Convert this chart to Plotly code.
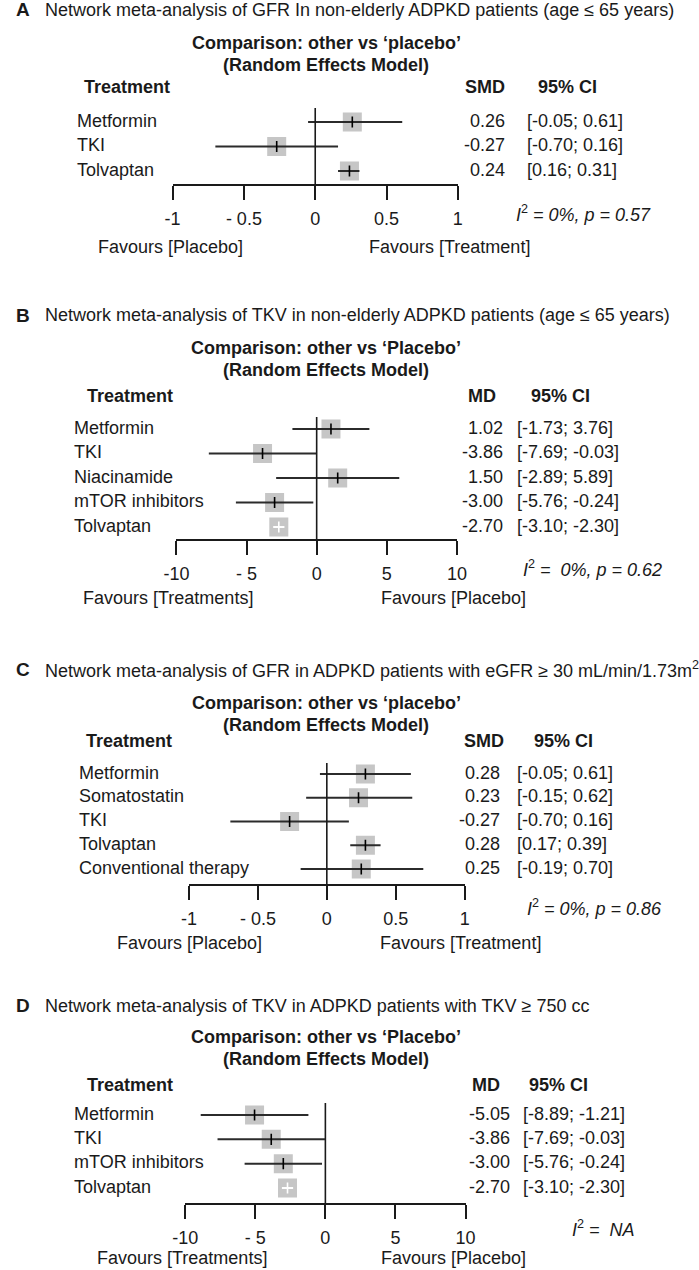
import plotly.graph_objects as go

# ---------------- data ----------------
# A: GFR in non-elderly ADPKD patients (SMD)
a_treat = ["Metformin", "TKI", "Tolvaptan"]
a_est = [0.26, -0.27, 0.24]
a_lo = [-0.05, -0.70, 0.16]
a_hi = [0.61, 0.16, 0.31]

# B: TKV in non-elderly ADPKD patients (MD)
b_treat = ["Metformin", "TKI", "Niacinamide", "mTOR inhibitors", "Tolvaptan"]
b_est = [1.02, -3.86, 1.50, -3.00, -2.70]
b_lo = [-1.73, -7.69, -2.89, -5.76, -3.10]
b_hi = [3.76, -0.03, 5.89, -0.24, -2.30]

# C: GFR in patients with eGFR >= 30 (SMD)
c_treat = ["Metformin", "Somatostatin", "TKI", "Tolvaptan", "Conventional therapy"]
c_est = [0.28, 0.23, -0.27, 0.28, 0.25]
c_lo = [-0.05, -0.15, -0.70, 0.17, -0.19]
c_hi = [0.61, 0.62, 0.16, 0.39, 0.70]

# D: TKV in patients with TKV >= 750 cc (MD)
d_treat = ["Metformin", "TKI", "mTOR inhibitors", "Tolvaptan"]
d_est = [-5.05, -3.86, -3.00, -2.70]
d_lo = [-8.89, -7.69, -5.76, -3.10]
d_hi = [-1.21, -0.03, -0.24, -2.30]

smd_ticks = [-1, -0.5, 0, 0.5, 1]
smd_ticktext = ["-1", "- 0.5", "0", "0.5", "1"]
md_ticks = [-10, -5, 0, 5, 10]
md_ticktext = ["-10", "- 5", "0", "5", "10"]

W, H = 699, 1270
FONT = "Liberation Sans, Arial, sans-serif"
INK = "#1a1a1a"
SQ = 19
BOLD = 18


def px(x):
    return x / W


def py(y):
    return 1 - y / H


panels = [
    dict(letter="A", title="Network meta-analysis of GFR In non-elderly ADPKD patients (age ≤ 65 years)",
         ref="‘placebo’", measure="SMD", treat=a_treat, est=a_est, lo=a_lo, hi=a_hi,
         ticks=smd_ticks, ticktext=smd_ticktext, fav=("Favours [Placebo]", "Favours [Treatment]"),
         het="<i>I</i><sup>2</sup><i> = 0%, p = 0.57</i>",
         title_y=10, comp_y=43, head_y=87, first=122, last=171, axis=184, top=108,
         x0=165, x1=460, name_x=64, head_x=71, val_x=511, ci_x=529, mh_x=511, cih_x=573,
         het_x=518, het_y=213, fav_y=247, fav_l=163, fav_r=451),
    dict(letter="B", title="Network meta-analysis of TKV in non-elderly ADPKD patients (age ≤ 65 years)",
         ref="‘Placebo’", measure="MD", treat=b_treat, est=b_est, lo=b_lo, hi=b_hi,
         ticks=md_ticks, ticktext=md_ticktext, fav=("Favours [Treatments]", "Favours [Placebo]"),
         het="<i>I</i><sup>2</sup><i> =  0%, p = 0.62</i>",
         title_y=315, comp_y=348, head_y=396, first=429, last=527, axis=539, top=417,
         x0=169, x1=459, name_x=61, head_x=74, val_x=509, ci_x=519, mh_x=501, cih_x=566,
         het_x=525, het_y=568, fav_y=598, fav_l=160, fav_r=455),
    dict(letter="C", title="Network meta-analysis of GFR in ADPKD patients with eGFR ≥ 30 mL/min/1.73m<sup>2</sup>",
         ref="‘placebo’", measure="SMD", treat=c_treat, est=c_est, lo=c_lo, hi=c_hi,
         ticks=smd_ticks, ticktext=smd_ticktext, fav=("Favours [Placebo]", "Favours [Treatment]"),
         het="<i>I</i><sup>2</sup><i> = 0%, p = 0.86</i>",
         title_y=670, comp_y=703, head_y=741, first=774, last=869, axis=884, top=763,
         x0=182, x1=467, name_x=66, head_x=73, val_x=506, ci_x=519, mh_x=510, cih_x=569,
         het_x=529, het_y=907, fav_y=943, fav_l=182, fav_r=463),
    dict(letter="D", title="Network meta-analysis of TKV in ADPKD patients with TKV ≥ 750 cc",
         ref="‘Placebo’", measure="MD", treat=d_treat, est=d_est, lo=d_lo, hi=d_hi,
         ticks=md_ticks, ticktext=md_ticktext, fav=("Favours [Treatments]", "Favours [Placebo]"),
         het="<i>I</i><sup>2</sup><i> =  NA</i>",
         title_y=1006, comp_y=1037, head_y=1085, first=1115, last=1188, axis=1203, top=1103,
         x0=178, x1=468, name_x=61, head_x=74, val_x=516, ci_x=525, mh_x=506, cih_x=564,
         het_x=576, het_y=1228, fav_y=1258, fav_l=175, fav_r=456),
]

fig = go.Figure()
annotations = []
shapes = []
layout = {}

for k, p in enumerate(panels, start=1):
    xa = "x" if k == 1 else f"x{k}"
    ya = "y" if k == 1 else f"y{k}"
    n = len(p["treat"])
    rows = [-i for i in range(n)]
    step = (p["last"] - p["first"]) / (n - 1)
    text_lift = 1.5 / step  # row labels sit a touch above the CI line
    lo_x, hi_x = p["ticks"][0], p["ticks"][-1]
    unit_px = (p["x1"] - p["x0"]) / (hi_x - lo_x)

    layout["xaxis" if k == 1 else f"xaxis{k}"] = dict(
        domain=[px(p["x0"]), px(p["x1"])], anchor=ya, range=[lo_x, hi_x],
        tickvals=p["ticks"], ticktext=p["ticktext"], ticks="outside", ticklen=14,
        tickwidth=1.6, tickcolor=INK, showline=True, linewidth=1.6, linecolor=INK,
        ticklabelstandoff=4,
        showgrid=False, zeroline=False, tickfont=dict(size=18, color=INK, family=FONT),
        fixedrange=True)
    layout["yaxis" if k == 1 else f"yaxis{k}"] = dict(
        domain=[py(p["axis"]), py(p["top"])], anchor=xa, visible=False,
        range=[-(p["axis"] - p["first"]) / step, (p["first"] - p["top"]) / step],
        fixedrange=True)

    # squares
    fig.add_trace(go.Scatter(x=p["est"], y=rows, mode="markers", xaxis=xa, yaxis=ya,
                             marker=dict(symbol="square", size=SQ, color="#c6c6c6", line=dict(width=0)),
                             showlegend=False, hoverinfo="skip"))
    # confidence intervals and estimate ticks
    for i in range(n):
        inside = (p["hi"][i] - p["lo"][i]) * unit_px < SQ
        col = "white" if inside else "#2b2b2b"
        fig.add_trace(go.Scatter(x=[p["lo"][i], p["hi"][i]], y=[rows[i], rows[i]], mode="lines",
                                 xaxis=xa, yaxis=ya, line=dict(color=col, width=2),
                                 showlegend=False, hoverinfo="skip"))
        fig.add_trace(go.Scatter(x=[p["est"][i]], y=[rows[i]], mode="markers", xaxis=xa, yaxis=ya,
                                 marker=dict(symbol="line-ns", size=8,
                                             line=dict(width=1.6, color="white" if inside else "black")),
                                 showlegend=False, hoverinfo="skip"))
        ty = rows[i] + text_lift
        annotations.append(dict(x=px(p["name_x"]), y=ty, xref="paper", yref=ya,
                                text=p["treat"][i], xanchor="left", yanchor="middle", showarrow=False))
        annotations.append(dict(x=px(p["val_x"]), y=ty, xref="paper", yref=ya,
                                text=f"{p['est'][i]:.2f}", xanchor="right", yanchor="middle", showarrow=False))
        annotations.append(dict(x=px(p["ci_x"]), y=ty, xref="paper", yref=ya,
                                text=f"[{p['lo'][i]:.2f}; {p['hi'][i]:.2f}]", xanchor="left",
                                yanchor="middle", showarrow=False))

    # zero line
    shapes.append(dict(type="line", xref=xa, yref=f"{ya} domain", x0=0, x1=0, y0=0, y1=1,
                       line=dict(color=INK, width=1.6)))

    # titles and headers
    annotations.append(dict(x=px(10), y=py(p["title_y"]), xref="paper", yref="paper",
                            text=f"<b>{p['letter']}</b>", font=dict(size=19),
                            xanchor="center", yanchor="middle", showarrow=False))
    annotations.append(dict(x=px(31), y=py(p["title_y"]), xref="paper", yref="paper",
                            text=p["title"], xanchor="left", yanchor="middle", showarrow=False))
    annotations.append(dict(x=px(324), y=py(p["comp_y"]), xref="paper", yref="paper",
                            text=f"<b>Comparison: other vs {p['ref']}</b>", font=dict(size=BOLD),
                            xanchor="center", yanchor="middle", showarrow=False))
    annotations.append(dict(x=px(324), y=py(p["comp_y"] + 22), xref="paper", yref="paper",
                            text="<b>(Random Effects Model)</b>", font=dict(size=BOLD),
                            xanchor="center", yanchor="middle", showarrow=False))
    annotations.append(dict(x=px(p["head_x"]), y=py(p["head_y"]), xref="paper", yref="paper",
                            text="<b>Treatment</b>", font=dict(size=BOLD),
                            xanchor="left", yanchor="middle", showarrow=False))
    annotations.append(dict(x=px(p["mh_x"]), y=py(p["head_y"]), xref="paper", yref="paper",
                            text=f"<b>{p['measure']}</b>", font=dict(size=BOLD),
                            xanchor="right", yanchor="middle", showarrow=False))
    annotations.append(dict(x=px(p["cih_x"]), y=py(p["head_y"]), xref="paper", yref="paper",
                            text="<b>95% CI</b>", font=dict(size=BOLD),
                            xanchor="center", yanchor="middle", showarrow=False))
    annotations.append(dict(x=px(p["het_x"]), y=py(p["het_y"]), xref="paper", yref="paper",
                            text=p["het"], xanchor="left", yanchor="middle", showarrow=False))
    annotations.append(dict(x=px(p["fav_l"]), y=py(p["fav_y"]), xref="paper", yref="paper",
                            text=p["fav"][0], xanchor="center", yanchor="middle", showarrow=False))
    annotations.append(dict(x=px(p["fav_r"]), y=py(p["fav_y"]), xref="paper", yref="paper",
                            text=p["fav"][1], xanchor="center", yanchor="middle", showarrow=False))

fig.update_layout(
    width=W, height=H, margin=dict(l=0, r=0, t=0, b=0),
    paper_bgcolor="white", plot_bgcolor="white",
    font=dict(family=FONT, size=18, color=INK),
    annotations=annotations, shapes=shapes, showlegend=False,
    **layout,
)

# drop the default page margin so the 699x1270 figure fills the window exactly
fig.write_html("out.html", config={"displayModeBar": False},
               post_script="document.body.style.margin='0';document.body.style.overflow='hidden';")
